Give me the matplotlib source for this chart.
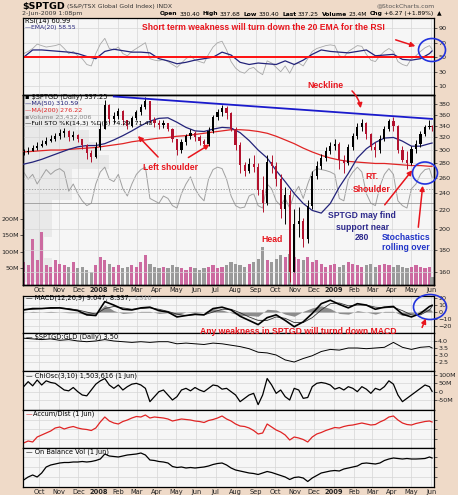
#!/usr/bin/env python3
"""
$SPTGD (S&P/TSX Global Gold Index) daily chart, StockCharts style, 2-Jun-2009.
Values read off the reference chart at weekly / bi-weekly resolution.
"""

import pandas as pd
import matplotlib
matplotlib.use('Agg')
import matplotlib.pyplot as plt
import matplotlib.dates as mdates
from matplotlib.patches import Ellipse, FancyArrowPatch, Rectangle
from matplotlib.transforms import blended_transform_factory
from matplotlib.ticker import NullLocator
from datetime import datetime

OUTPUT_FILE = 'out.png'
W, H = 458, 495

# Colours
BG = '#efdac8'
PANEL_BG = '#f6f6f6'
GRID = '#d6d6d6'
NAVY = '#23237a'
LINE_RED = '#e02424'
PRICE_RED = '#b3122e'
NOTE_RED = '#e8141c'
NOTE_NAVY = '#2e2a8c'
NOTE_BLUE = '#1f33c8'
VOL_PINK = '#cc6aa0'
VOL_GRAY = '#9a9a9a'

# ---------------- data (weekly, Sep 7 2007 .. May 29 2009, + Jun 2 2009) ----------------
WEEKS = list(pd.date_range('2007-09-07', '2009-05-29', freq='W-FRI')) + [pd.Timestamp('2009-06-02')]
BIWEEKS = WEEKS[::2] + [WEEKS[-1]]

FIRST_OPEN = 295
CLOSE = [297, 299, 303, 306, 310, 315, 318, 322, 328, 330,
         320, 324, 318, 308, 295, 289, 305, 335, 378, 352,
         358, 366, 350, 340, 354, 364, 374, 385, 350, 344,
         342, 344, 334, 318, 300, 312, 322, 328, 320, 315,
         310, 330, 355, 364, 372, 362, 335, 308, 278, 270,
         279, 275, 244, 228, 282, 276, 258, 222, 238, 160,
         205, 208, 190, 225, 262, 277, 288, 298, 306, 310,
         285, 280, 305, 322, 338, 344, 325, 304, 300, 318,
         335, 348, 340, 300, 285, 280, 302, 310, 325, 338,
         340, 337]
HIGH = [302, 304, 308, 312, 316, 320, 324, 328, 334, 336,
        332, 330, 326, 318, 310, 300, 312, 345, 388, 380,
        365, 372, 368, 350, 358, 368, 380, 393, 386, 356,
        350, 350, 345, 336, 318, 318, 326, 334, 330, 324,
        318, 338, 360, 370, 378, 376, 364, 338, 312, 282,
        288, 292, 280, 262, 292, 292, 282, 265, 248, 244,
        222, 224, 212, 232, 270, 284, 294, 304, 312, 318,
        312, 292, 310, 328, 344, 352, 346, 328, 312, 324,
        340, 352, 356, 342, 306, 298, 306, 316, 330, 342,
        350, 342]
LOW = [292, 294, 298, 300, 304, 308, 312, 315, 318, 320,
       314, 316, 312, 302, 286, 282, 288, 300, 335, 345,
       345, 352, 342, 335, 338, 350, 360, 370, 345, 338,
       334, 336, 330, 312, 292, 296, 308, 318, 314, 308,
       303, 306, 328, 350, 358, 352, 330, 300, 266, 262,
       266, 268, 238, 218, 226, 266, 250, 212, 205, 152,
       160, 192, 182, 186, 222, 258, 272, 284, 294, 300,
       272, 266, 278, 300, 318, 330, 318, 300, 290, 296,
       314, 330, 330, 296, 282, 272, 278, 296, 305, 322,
       334, 330]
VOLUME_M = [70, 60, 138, 75, 159, 60, 55, 75, 65, 60,
            55, 70, 50, 55, 45, 40, 60, 85, 75, 65,
            55, 60, 50, 55, 60, 55, 70, 90, 65, 55,
            50, 55, 50, 60, 55, 50, 45, 55, 50, 45,
            50, 55, 60, 50, 55, 60, 70, 65, 60, 55,
            65, 70, 80, 116, 75, 70, 80, 90, 85, 95,
            85, 80, 75, 85, 70, 75, 65, 55, 60, 65,
            55, 60, 70, 65, 60, 55, 60, 65, 55, 60,
            65, 60, 55, 60, 55, 50, 55, 60, 55, 50,
            55, 23]
STOCH_K = [85, 70, 80, 60, 75, 90, 80, 88, 92, 85,
           45, 60, 40, 25, 15, 20, 60, 85, 95, 70,
           65, 80, 50, 35, 60, 80, 90, 95, 30, 25,
           20, 35, 30, 15, 10, 40, 60, 75, 50, 35,
           25, 70, 90, 95, 92, 70, 35, 15, 10, 12,
           35, 40, 15, 10, 60, 50, 25, 15, 30, 10,
           40, 55, 30, 60, 85, 92, 90, 88, 85, 80,
           30, 25, 70, 85, 95, 85, 40, 20, 15, 55,
           80, 92, 80, 25, 15, 10, 50, 60, 80, 90,
           92, 74]
RSI = [55, 58, 62, 68, 66, 64, 65, 66, 68, 62,
       55, 58, 52, 48, 40, 38, 55, 68, 76, 62,
       60, 64, 55, 52, 58, 62, 66, 70, 48, 46,
       45, 47, 44, 40, 36, 42, 48, 52, 46, 44,
       42, 54, 64, 70, 72, 60, 44, 35, 30, 28,
       34, 36, 30, 26, 45, 42, 36, 30, 38, 28,
       40, 42, 38, 48, 58, 62, 64, 66, 67, 66,
       52, 50, 58, 62, 66, 65, 54, 46, 44, 52,
       58, 62, 58, 44, 40, 38, 48, 52, 58, 63,
       66, 61]
CHIOSC_M = [30, 60, 35, 70, 40, 65, 55, 50, 30, 10,
            5, 25, 0, -20, -25, 10, 45, 65, 79, 40,
            20, 40, 10, 30, 45, 50, 40, 20, -60, -30,
            0, 10, -20, -50, -30, 10, 20, 5, 25, 10,
            0, 20, 40, 35, 15, 20, 0, -20, -60, -40,
            -20, -10, -78, -20, 79, 40, -10, 10, -30, -50,
            20, 10, -40, -35, 30, 50, 55, 50, 40, 15,
            25, 10, 30, 20, 0, 30, 15, -10, 20, 10,
            30, 65, 45, -20, -60, -40, -20, 0, 20, 40,
            30, 2]
ACCUM_DIST = [50, 70, 60, 110, 130, 150, 170, 200, 210, 190,
              205, 215, 200, 190, 185, 175, 200, 260, 310, 270,
              250, 240, 265, 280, 300, 315, 310, 330, 300, 310,
              305, 300, 290, 270, 280, 290, 285, 280, 270, 265,
              255, 275, 285, 300, 320, 290, 270, 240, 220, 215,
              200, 175, 140, 150, 240, 210, 180, 160, 130, 80,
              110, 100, 85, 60, 110, 140, 155, 175, 190, 205,
              200, 215, 225, 230, 240, 250, 240, 230, 235, 260,
              280, 310, 320, 280, 250, 235, 230, 245, 255, 265,
              270, 260]
OBV = [70, 100, 120, 100, 140, 200, 220, 230, 240, 245,
       245, 250, 250, 255, 250, 255, 265, 280, 330, 310,
       305, 300, 310, 320, 325, 330, 340, 320, 270, 265,
       255, 250, 240, 205, 195, 200, 190, 195, 190, 195,
       200, 210, 225, 235, 240, 220, 190, 170, 160, 150,
       140, 135, 125, 140, 155, 145, 130, 115, 100, 75,
       95, 100, 90, 55, 90, 115, 140, 150, 160, 165,
       160, 180, 190, 200, 210, 235, 240, 235, 230, 240,
       265, 280, 290, 285, 280, 285, 280, 280, 282, 285,
       300, 290]

# bi-weekly samples
MA50 = [279, 282, 286, 291, 296, 301, 305, 307, 307, 310,
        316, 323, 331, 340, 348, 353, 354, 346, 337, 331,
        330, 334, 337, 336, 328, 315, 300, 288, 270, 255,
        240, 228, 220, 217, 228, 248, 266, 288, 302, 312,
        319, 320, 314, 306, 306, 310, 311]
MA200 = [297, 298, 299, 300, 300, 301, 302, 303, 304, 306,
         308, 310, 313, 315, 317, 319, 320, 322, 323, 325,
         327, 329, 331, 333, 333, 332, 330, 327, 322, 316,
         310, 303, 297, 292, 288, 285, 283, 282, 281, 280,
         280, 279, 278, 277, 277, 276, 276]
RSI_EMA = [50, 60, 60, 59, 58, 57, 55, 51, 48, 58,
           61, 59, 57, 57, 56, 48, 45, 41, 43, 46,
           48, 50, 57, 53, 43, 40, 42, 41, 40, 45,
           40, 46, 54, 60, 58, 57, 56, 58, 60, 52,
           53, 54, 47, 46, 48, 55, 58.6]
MACD = [3, 5, 5, 6, 6, 4, 2, -4, -5, 15,
        10, 4, 3, 6, 7, 2, 0, -7, -5, -3,
        -4, 5, 7, 3, -6, -12, -18, -8, -4, -12,
        -21, -14, -2, 12, 17, 11, 6, 12, 10, 4,
        7, 8, -3, -7, -2, 8, 9.6]
MACD_SIGNAL = [4, 4, 5, 5, 6, 5, 3, 0, -3, 5,
               8, 6, 4, 5, 6, 4, 1, -3, -5, -4,
               -4, 0, 4, 4, -1, -7, -12, -12, -7, -9,
               -15, -15, -8, 3, 12, 13, 9, 10, 10, 7,
               6, 7, 2, -4, -4, 3, 8.3]
MACD_HIST = [-1, 1, 0, 1, 0, -1, -1, -4, -2, 10,
             2, -2, -1, 1, 1, -2, -1, -4, 0, 1,
             0, 5, 3, -1, -5, -5, -6, 4, 3, -3,
             -6, 1, 6, 9, 5, -2, -3, 2, 0, -3,
             1, 1, -5, -3, 2, 5, 1.3]
GLD_RATIO = [4.2, 4.15, 4.1, 4.15, 4.05, 4.1, 4.0, 3.95, 4.0, 4.1,
             4.0, 3.95, 3.9, 3.95, 3.9, 3.95, 3.95, 3.8, 3.85, 3.8,
             3.75, 3.85, 3.8, 3.7, 3.6, 3.45, 3.2, 3.15, 3.0, 2.65,
             2.5, 2.75, 2.95, 3.25, 3.4, 3.35, 3.5, 3.5, 3.45, 3.5,
             3.55, 3.9, 3.55, 3.4, 3.55, 3.6, 3.5]

# neckline (blue trendline)
NECK_DATES = [pd.Timestamp('2008-01-25'), pd.Timestamp('2009-06-02')]
NECK_PRICES = [395, 352]

# volume-by-price bins (price low, price high, share of chart width)
VBP_LO = [152, 172, 192, 212, 232, 252, 272, 292, 312, 332, 352, 372]
VBP_HI = [172, 192, 212, 232, 252, 272, 292, 312, 332, 352, 372, 393]
VBP_SHARE = [0.07, 0.05, 0.07, 0.07, 0.12, 0.12, 0.21, 0.18, 0.16, 0.13, 0.09, 0.05]

PRICE_TICKS = [160, 180, 200, 220, 240, 260, 280, 300, 320, 340, 360, 380]
VOL_TICKS = [50, 100, 150, 200]
RSI_TICKS = [10, 30, 50, 70, 90]
MACD_TICKS = [-20, -10, 0, 10, 20]
GLD_TICKS = [2.5, 3.0, 3.5, 4.0]
CHI_TICKS = [-50, 0, 50, 100]
CHI_LABELS = ['-50M', '0', '50M', '100M']

MONTHS = list(pd.date_range('2007-10-01', '2009-06-01', freq='MS'))
MONTH_LABELS = ['Oct', 'Nov', 'Dec', '2008', 'Feb', 'Mar', 'Apr', 'May', 'Jun', 'Jul',
                'Aug', 'Sep', 'Oct', 'Nov', 'Dec', '2009', 'Feb', 'Mar', 'Apr', 'May', 'Jun']

QUOTE = [('Open', True), ('330.40', False), ('High', True), ('337.68', False),
         ('Low', True), ('330.40', False), ('Last', True), ('337.25', False),
         ('Volume', True), ('23.4M', False), ('Chg', True), ('+6.27 (+1.89%)', False),
         ('\u25b2', False)]

X0, X1 = datetime(2007, 9, 6), datetime(2009, 6, 5)
LEFT_PX, RIGHT_PX = 23, 434

plt.rcParams['font.family'] = 'DejaVu Sans'
NOTE_FONT = ['Liberation Sans', 'DejaVu Sans']


def panel(fig, top, bottom, face=PANEL_BG):
    ax = fig.add_axes([LEFT_PX / W, 1 - bottom / H, (RIGHT_PX - LEFT_PX) / W, (bottom - top) / H])
    ax.set_facecolor(face)
    ax.set_xlim(X0, X1)
    ax.set_xticks(MONTHS)
    ax.tick_params(axis='x', length=0, labelbottom=False)
    ax.yaxis.tick_right()
    ax.tick_params(axis='y', labelsize=4.6, length=2, pad=1, colors='#222222', width=0.5)
    for s in ax.spines.values():
        s.set_color('black')
        s.set_linewidth(0.9)
    ax.grid(True, color=GRID, lw=0.5)
    ax.set_axisbelow(True)
    return ax


def month_labels(ax):
    ax.set_xticks(MONTHS, MONTH_LABELS)
    ax.tick_params(axis='x', labelbottom=True, labelsize=4.8, pad=1.5, colors='#222222')
    for lab in ax.get_xticklabels():
        if lab.get_text().startswith('20'):
            lab.set_fontweight('bold')


def ftext(fig, x, y, s, **kw):
    kw.setdefault('va', 'center')
    kw.setdefault('fontsize', 4.6)
    return fig.text(x / W, 1 - y / H, s, **kw)


def note(fig, x, y, s, color, ha='left'):
    ftext(fig, x, y, s, color=color, ha=ha, fontsize=6.2, fontweight='bold', family=NOTE_FONT)


def arrow(fig, x0, y0, x1, y1, rad=0.0):
    fig.add_artist(FancyArrowPatch((x0 / W, 1 - y0 / H), (x1 / W, 1 - y1 / H),
                                   transform=fig.transFigure, arrowstyle='-|>',
                                   mutation_scale=7, color=NOTE_RED, lw=1.1,
                                   connectionstyle=f'arc3,rad={rad}'))


def ring(fig, cx, cy, w, h):
    fig.add_artist(Ellipse((cx / W, 1 - cy / H), w / W, h / H, transform=fig.transFigure,
                           fill=False, ec='#2233dd', lw=1.2))


def main():
    fig = plt.figure(figsize=(W / 100, H / 100), dpi=100, facecolor=BG)
    renderer = fig.canvas.get_renderer()

    # ---------------- RSI ----------------
    ax = panel(fig, 18, 95)
    ax.plot(WEEKS, RSI, color='#a8a8a8', lw=0.6)
    ax.plot(BIWEEKS, RSI_EMA, color=NAVY, lw=0.9)
    ax.axhline(50, color='#ff1010', lw=1.4)
    ax.set_ylim(-2, 104)
    ax.set_yticks(RSI_TICKS)

    # ---------------- price panel (volume / stochastics / price overlay) ----------------
    ax_vol = panel(fig, 95, 285)
    ax_vol.grid(axis='y', visible=False)
    ax_vol.yaxis.tick_left()
    ax_vol.set_ylim(0, 575)
    ax_vol.set_yticks(VOL_TICKS, [f'{v}M' for v in VOL_TICKS])

    ax_sto = panel(fig, 95, 285, face='none')
    ax_sto.grid(False)
    ax_sto.set_yticks([])
    ax_sto.set_ylim(-150, 245)

    ax_px = panel(fig, 95, 285, face='none')
    ax_px.grid(axis='x', visible=False)
    ax_px.set_yscale('log')
    ax_px.set_ylim(150, 398)
    ax_px.set_yticks(PRICE_TICKS, [str(t) for t in PRICE_TICKS])
    ax_px.yaxis.set_minor_locator(NullLocator())
    month_labels(ax_px)

    # volume-by-price boxes
    vbp_tf = blended_transform_factory(ax_vol.transAxes, ax_px.transData)
    for lo, hi, share in zip(VBP_LO, VBP_HI, VBP_SHARE):
        ax_vol.add_patch(Rectangle((0, lo), share, hi - lo, transform=vbp_tf,
                                   facecolor='#e4e4e4', edgecolor='none', alpha=0.7, zorder=0.5))

    xs = mdates.date2num(WEEKS)
    opens = [FIRST_OPEN] + CLOSE[:-1]
    vol_colors = [VOL_PINK if c >= o else VOL_GRAY for o, c in zip(opens, CLOSE)]
    ax_vol.bar(xs, VOLUME_M, width=5, color=vol_colors, zorder=2)

    ax_sto.plot(WEEKS, STOCH_K, color='#a0a0a0', lw=0.7)
    ax_sto.axhline(50, color='#8a8a8a', lw=0.5, ls=(0, (2, 2)))
    ax_sto.axhline(20, color='#8a8a8a', lw=0.5)

    ax_px.plot(BIWEEKS, MA200, color=LINE_RED, lw=0.9, zorder=3)
    ax_px.plot(BIWEEKS, MA50, color=NAVY, lw=0.9, zorder=3)
    for x, o, c, hi, lo in zip(xs, opens, CLOSE, HIGH, LOW):
        col = 'black' if c >= o else PRICE_RED
        ax_px.vlines(x, lo, hi, color=col, lw=0.7, zorder=4)
        ax_px.add_patch(Rectangle((x - 1.7, min(o, c)), 3.4, max(abs(c - o), 0.8),
                                  facecolor=col, edgecolor='none', zorder=4))
    ax_px.plot(NECK_DATES, NECK_PRICES, color='#1a1acc', lw=1.3, zorder=5)

    # ---------------- MACD ----------------
    ax = panel(fig, 296, 333)
    ax.fill_between(BIWEEKS, MACD_HIST, 0, color='#8c8c8c', lw=0)
    ax.plot(BIWEEKS, MACD_SIGNAL, color='#333333', lw=0.6)
    ax.plot(BIWEEKS, MACD, color='black', lw=1.2)
    ax.set_ylim(-30, 23)
    ax.set_yticks(MACD_TICKS)

    # ---------------- SPTGD:GLD ----------------
    ax = panel(fig, 333, 371)
    ax.plot(BIWEEKS, GLD_RATIO, color='black', lw=0.7)
    ax.set_ylim(1.86, 4.57)
    ax.set_yticks(GLD_TICKS, [f'{t:.1f}' for t in GLD_TICKS])

    # ---------------- Chaikin oscillator ----------------
    ax = panel(fig, 371, 410)
    ax.plot(WEEKS, CHIOSC_M, color='black', lw=0.9)
    ax.set_ylim(-110, 124)
    ax.set_yticks(CHI_TICKS, CHI_LABELS)

    # ---------------- Accum/Dist ----------------
    ax = panel(fig, 410, 448)
    ax.plot(WEEKS, ACCUM_DIST, color=LINE_RED, lw=0.9)
    ax.set_ylim(0, 380)
    ax.set_yticks([95, 190, 285], [])

    # ---------------- OBV ----------------
    ax = panel(fig, 448, 487)
    ax.plot(WEEKS, OBV, color='black', lw=0.9)
    ax.set_ylim(0, 390)
    ax.set_yticks([100, 200, 300], [])
    month_labels(ax)

    # ---------------- header ----------------
    t = ftext(fig, 22, 6, r'\$SPTGD', fontsize=6.8, fontweight='bold')
    x = 22 + t.get_window_extent(renderer).width + 2
    ftext(fig, x, 6.5, '(S&P/TSX Global Gold Index) INDX', fontsize=4.4, color='#333333')
    ftext(fig, 435, 6, '@StockCharts.com', fontsize=4.4, color='#555555', ha='right')
    ftext(fig, 22, 14, '2-Jun-2009 1:08pm', fontsize=4.5, color='#333333')
    x = 160
    for s, bold in QUOTE:
        t = ftext(fig, x, 14, s, fontsize=4.3, fontweight='bold' if bold else 'normal')
        x += t.get_window_extent(renderer).width + (1.5 if bold else 3)

    # ---------------- panel legends ----------------
    ftext(fig, 25, 21, 'RSI(14) 60.99', fontsize=4.8)
    ftext(fig, 25, 28, '\u2014EMA(20) 58.55', color=NAVY, fontsize=4.3)
    ftext(fig, 25, 97, '\u25aa \\$SPTGD (Daily) 337.25', fontsize=4.8)
    ftext(fig, 25, 104, '\u2014MA(50) 310.59', color=NAVY)
    ftext(fig, 25, 110.5, '\u2014MA(200) 276.22', color=LINE_RED)
    ftext(fig, 25, 117, '\u25aaVolume 23,432,006', color='#888888')
    ftext(fig, 25, 123.5, '\u2014Full STO %K(14,3) %D(3) 74.29, 71.48')
    ftext(fig, 26, 298, '\u2014 MACD(12,26,9) 9.647, 8.337,', fontsize=4.8)
    ftext(fig, 133, 298, '1.310', fontsize=4.8, color='#999999')
    ftext(fig, 26, 337, '\u2014 \\$SPTGD:GLD (Daily) 3.50', fontsize=4.8)
    ftext(fig, 26, 376, '\u2014 ChiOsc(3,10) 1,503,616 (1 Jun)', fontsize=4.8)
    ftext(fig, 26, 414, '\u2014', fontsize=4.8, color=LINE_RED)
    ftext(fig, 33, 414, 'Accum/Dist (1 Jun)', fontsize=4.8)
    ftext(fig, 26, 452, '\u2014 On Balance Vol (1 Jun)', fontsize=4.8)

    # ---------------- annotations ----------------
    note(fig, 142, 27, 'Short term weakness will turn down the 20 EMA for the RSI', NOTE_RED)
    arrow(fig, 393, 39, 418, 47)
    ring(fig, 432, 50, 27, 23)

    note(fig, 307, 85, 'Neckline', NOTE_RED)
    arrow(fig, 350, 89, 361, 111, rad=-0.2)

    note(fig, 143, 168, 'Left shoulder', NOTE_RED)
    arrow(fig, 160, 159, 136, 134)
    arrow(fig, 186, 159, 212, 143)

    note(fig, 261, 240, 'Head', NOTE_RED)
    note(fig, 372, 176, 'RT.', NOTE_RED, ha='center')
    note(fig, 372, 189, 'Shoulder', NOTE_RED, ha='center')

    note(fig, 362, 215, 'SPTGD may find', NOTE_NAVY, ha='center')
    note(fig, 362, 227, 'support near', NOTE_NAVY, ha='center')
    note(fig, 362, 238, '280', NOTE_NAVY, ha='center')
    arrow(fig, 383, 207, 414, 168)

    ring(fig, 425, 173, 25, 22)
    note(fig, 406, 237, 'Stochastics', NOTE_BLUE, ha='center')
    note(fig, 406, 248, 'rolling over', NOTE_BLUE, ha='center')
    arrow(fig, 418, 230, 423, 183)

    ring(fig, 430, 307, 33, 25)
    note(fig, 200, 331, 'Any weakness in SPTGD will turnd down MACD', NOTE_RED)
    arrow(fig, 421, 330, 427, 316)

    fig.savefig(OUTPUT_FILE, dpi=100, facecolor=BG)
    plt.close(fig)


if __name__ == '__main__':
    main()
